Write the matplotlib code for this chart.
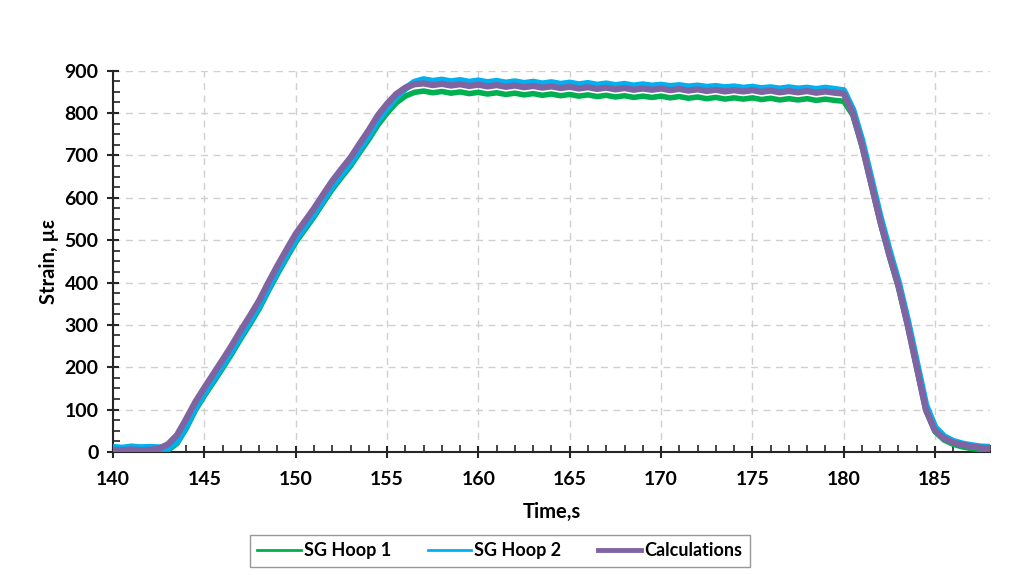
import numpy as np
import matplotlib.pyplot as plt
from matplotlib.ticker import MultipleLocator

plt.rcParams['font.family'] = ['Lato', 'DejaVu Sans']
plt.rcParams['font.weight'] = 'bold'

# time base, 0.5 s steps
time = np.arange(140, 188.01, 0.5)

# SG Hoop 1 (green)
hoop1 = [3, 2, 4, 2, 3, 2,
         4, 20, 55, 98, 133, 165, 198, 232, 268, 302, 338, 380, 420, 458,
         495, 525, 555, 588, 620, 648, 675, 707, 738, 772, 800, 824, 840, 849, 852,
         848, 851, 847, 850, 846, 849, 845, 848, 844, 847, 843, 846, 842, 845, 841,
         844, 840, 843, 839, 842, 838, 841, 837, 840, 837, 840, 836, 839, 835, 838,
         834, 837, 833, 836, 833, 836, 832, 835, 831, 834, 831, 834, 830, 833, 830, 828,
         795, 722, 632, 542, 462, 388, 298, 198, 98, 48, 28, 18, 12, 8, 6, 5]

# SG Hoop 2 (blue)
hoop2 = [11, 9, 12, 10, 11, 10,
         9, 26, 62, 105, 140, 173, 206, 240, 276, 310, 346, 388, 428, 466,
         503, 533, 563, 596, 628, 656, 683, 716, 748, 783, 812, 838, 858, 873, 879,
         875, 878, 874, 877, 873, 876, 872, 875, 871, 874, 870, 873, 869, 872, 868,
         871, 867, 870, 866, 869, 865, 868, 864, 867, 864, 866, 863, 865, 862, 864,
         861, 863, 860, 862, 859, 861, 858, 860, 857, 860, 857, 859, 856, 859, 856, 853,
         808, 735, 645, 555, 475, 400, 310, 210, 110, 58, 36, 25, 19, 15, 12, 11]

# Calculations (purple)
calc = [5, 4, 6, 4, 5, 8,
        18, 40, 78, 118, 152, 185, 218, 252, 288, 322, 358, 400, 440, 478,
        515, 545, 575, 608, 640, 668, 695, 728, 760, 795, 822, 845, 860, 868, 870,
        866, 869, 865, 868, 864, 867, 863, 866, 862, 865, 861, 864, 860, 863, 859,
        862, 858, 861, 857, 860, 856, 859, 855, 858, 855, 858, 854, 857, 853, 856,
        852, 855, 851, 854, 851, 854, 850, 853, 849, 852, 849, 852, 848, 851, 848, 846,
        800, 725, 635, 545, 465, 392, 300, 200, 100, 50, 32, 22, 17, 13, 10, 9]

fig = plt.figure(figsize=(10.1, 5.75), dpi=100)
ax = fig.add_axes([0.112, 0.214, 0.868, 0.663])

ax.plot(time, hoop1, color='#00B050', lw=4.0, label='SG Hoop 1', zorder=3)
ax.plot(time, hoop2, color='#00B0F0', lw=5.0, label='SG Hoop 2', zorder=4)
ax.plot(time, calc, color='#8064A2', lw=4.5, label='Calculations', zorder=5)

ax.set_xlim(140, 188)
ax.set_ylim(0, 900)
ax.xaxis.set_major_locator(MultipleLocator(5))
ax.xaxis.set_minor_locator(MultipleLocator(1))
ax.yaxis.set_major_locator(MultipleLocator(100))
ax.yaxis.set_minor_locator(MultipleLocator(25))

ax.grid(True, which='major', color='#D0D0D0', linestyle=(0, (5, 4)), lw=1.0)
ax.set_axisbelow(True)
for s in ['top', 'right']:
    ax.spines[s].set_visible(False)
for s in ['left', 'bottom']:
    ax.spines[s].set_color('#262626')
    ax.spines[s].set_linewidth(1.5)

ax.tick_params(which='major', direction='inout', length=9, width=1.5, color='#262626',
               labelsize=14)
ax.tick_params(axis='x', which='major', pad=9)
ax.tick_params(axis='y', which='major', pad=6)
ax.tick_params(which='minor', direction='in', length=5, width=1.2, color='#262626')

ax.set_xlabel('Time,s', fontsize=14.5, fontweight='bold', labelpad=10)
ax.set_ylabel('Strain, µε', fontsize=14.5, fontweight='bold', labelpad=4)

leg = fig.legend(loc='center', bbox_to_anchor=(0.495, 0.042), ncol=3, fontsize=13,
                 frameon=True, fancybox=False, edgecolor='#7F7F7F', handlelength=2.4,
                 handletextpad=0.2, columnspacing=2.0, borderpad=0.4)
leg.get_frame().set_linewidth(1.0)
for h in leg.get_lines():
    h.set_linewidth(2.0)
leg.get_lines()[2].set_linewidth(3.5)

fig.savefig('out.png', dpi=100)
